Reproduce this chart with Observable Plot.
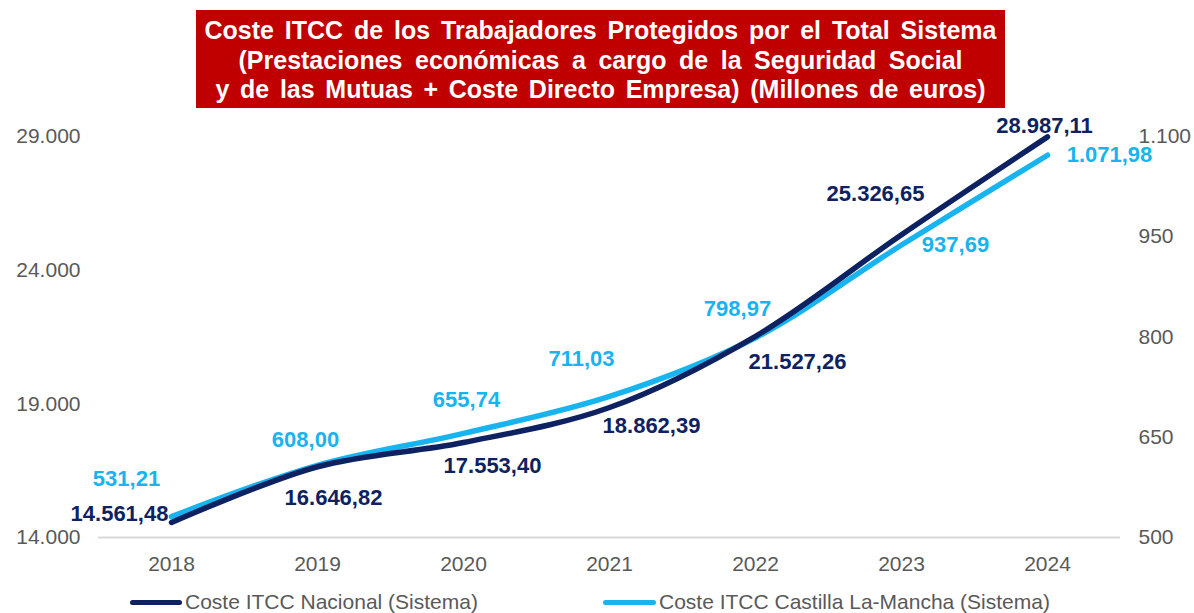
<!DOCTYPE html>
<html>
<head>
<meta charset="utf-8">
<script src="https://cdn.jsdelivr.net/npm/d3@7"></script>
<script src="https://cdn.jsdelivr.net/npm/@observablehq/plot@0.6"></script>
<style>
  html, body { margin: 0; padding: 0; background: #fff; }
  body { width: 1194px; height: 613px; position: relative; overflow: hidden; font-family: "Liberation Sans", Arial, sans-serif; }
  #title { position: absolute; left: 196px; top: 10px; width: 809px; height: 98px; background: #c00000; box-sizing: border-box; padding-top: 6px; }
  #title div { text-align: center; color: #fff; font-weight: bold; font-size: 25px; line-height: 29.5px; white-space: nowrap; }
  #title span { display: inline-block; }
  #chart { position: absolute; left: 0; top: 110px; }
  .leg { position: absolute; top: 590px; height: 24px; display: flex; align-items: center; font-size: 21px; color: #595959; white-space: nowrap; }
  .sw { display: inline-block; height: 5px; border-radius: 3px; margin-right: 3px; }
</style>
</head>
<body>
<div id="title">
  <div><span data-w="792">Coste ITCC de los Trabajadores Protegidos por el Total Sistema</span></div>
  <div><span data-w="724">(Prestaciones económicas a cargo de la Seguridad Social</span></div>
  <div><span data-w="770">y de las Mutuas + Coste Directo Empresa) (Millones de euros)</span></div>
</div>
<div id="chart"></div>
<div class="leg" style="left:130px"><span class="sw" style="width:52px;background:#0e2160"></span>Coste ITCC Nacional (Sistema)</div>
<div class="leg" style="left:603px"><span class="sw" style="width:53px;background:#18b4ef"></span>Coste ITCC Castilla La-Mancha (Sistema)</div>
<script>
// ---- data ----
const years = ["2018", "2019", "2020", "2021", "2022", "2023", "2024"];
const nacional = [14561.48, 16646.82, 17553.40, 18862.39, 21527.26, 25326.65, 28987.11];
const castillaLaMancha = [531.21, 608.00, 655.74, 711.03, 798.97, 937.69, 1071.98];
const leftTicks = [14000, 19000, 24000, 29000];
const rightTicks = [500, 650, 800, 950, 1100];
const seriesNames = ["Coste ITCC Nacional (Sistema)", "Coste ITCC Castilla La-Mancha (Sistema)"];

// ---- label placement (pixel offsets from each point) ----
const nacOffsets = [[-52, -9], [16, 31], [29, 23], [42, 18], [42, 26], [-26, -41], [-3, -11]];
const clmOffsets = [[-45, -38], [-12, -25], [3, -33], [-28, -38], [-18, -29], [54, 0], [62, 0]];

// ---- title justification ----
document.querySelectorAll("#title span").forEach(s => {
  const target = +s.dataset.w;
  const w = s.getBoundingClientRect().width;
  const n = (s.textContent.match(/ /g) || []).length;
  if (n) s.style.wordSpacing = ((target - w) / n) + "px";
});

const NAVY = "#0e2160", LIGHT = "#18b4ef", GRAY = "#595959";
const loc = d3.formatLocale({decimal: ",", thousands: ".", grouping: [3], currency: ["", "€"]});
const fmtInt = loc.format(",.0f");
const fmt2 = loc.format(",.2f");

// right axis (500..1100) mapped onto left axis (14000..29000)
const toLeft = d3.scaleLinear().domain([rightTicks[0], rightTicks[rightTicks.length - 1]]).range([leftTicks[0], leftTicks[leftTicks.length - 1]]);

const nacData = years.map((year, i) => ({year, v: nacional[i]}));
const clmData = years.map((year, i) => ({year, v: castillaLaMancha[i]}));

const labelMarks = [];
nacData.forEach((d, i) => labelMarks.push(Plot.text([d], {
  x: "year", y: "v", text: d => fmt2(d.v), fill: NAVY, fontWeight: "bold", fontSize: 22,
  dx: nacOffsets[i][0], dy: nacOffsets[i][1], textAnchor: "middle"
})));
clmData.forEach((d, i) => labelMarks.push(Plot.text([d], {
  x: "year", y: d => toLeft(d.v), text: d => fmt2(d.v), fill: LIGHT, fontWeight: "bold", fontSize: 22,
  dx: clmOffsets[i][0], dy: clmOffsets[i][1], textAnchor: "middle"
})));

const chart = Plot.plot({
  width: 1194,
  height: 470,
  marginTop: 26,
  marginBottom: 43,
  marginLeft: 98,
  marginRight: 74,
  style: {fontFamily: "'Liberation Sans', Arial, sans-serif", fontSize: "21px", color: GRAY, background: "transparent"},
  x: {type: "point", domain: years, padding: 0.5},
  y: {domain: [leftTicks[0], leftTicks[leftTicks.length - 1]]},
  marks: [
    Plot.ruleY([leftTicks[0]], {stroke: "#d9d9d9", strokeWidth: 2}),
    Plot.axisX({tickSize: 0, tickPadding: 19, fontSize: 21, fill: GRAY, label: null}),
    Plot.axisY({ticks: leftTicks, tickSize: 0, tickPadding: 18, tickFormat: fmtInt, fontSize: 21, fill: GRAY, label: null}),
    Plot.axisY(rightTicks.map(toLeft), {anchor: "right", tickSize: 0, tickPadding: 18, tickFormat: d => fmtInt(toLeft.invert(d)), fontSize: 21, fill: GRAY, label: null}),
    Plot.line(clmData, {x: "year", y: d => toLeft(d.v), stroke: LIGHT, strokeWidth: 5.5, curve: "catmull-rom", strokeLinecap: "round"}),
    Plot.line(nacData, {x: "year", y: "v", stroke: NAVY, strokeWidth: 5.5, curve: "catmull-rom", strokeLinecap: "round"}),
    ...labelMarks
  ]
});
document.getElementById("chart").appendChild(chart);
</script>
</body>
</html>
